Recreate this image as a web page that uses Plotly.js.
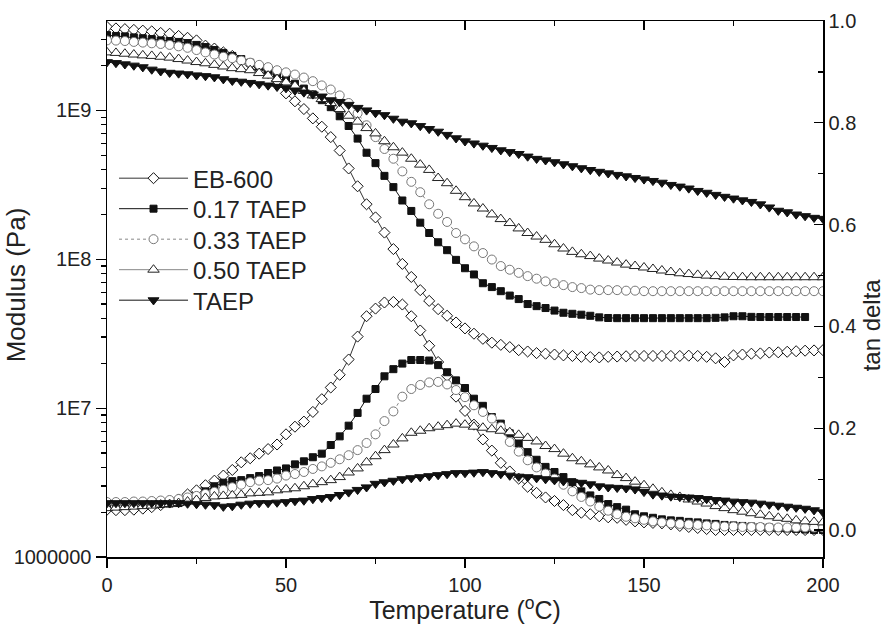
<!DOCTYPE html>
<html><head><meta charset="utf-8">
<script src="https://cdn.plot.ly/plotly-3.0.1.min.js"></script>
<style>html,body{margin:0;padding:0;background:#fff}</style>
</head><body><div id="chart" style="width:889px;height:628px"></div>
<script>
// ---- data ----
const temperature = [
  0,2.5,5,7.5,10,12.5,15,17.5,20,22.5,
  25,27.5,30,32.5,35,37.5,40,42.5,45,47.5,
  50,52.5,55,57.5,60,62.5,65,67.5,70,72.5,
  75,77.5,80,82.5,85,87.5,90,92.5,95,97.5,
  100,102.5,105,107.5,110,112.5,115,117.5,120,122.5,
  125,127.5,130,132.5,135,137.5,140,142.5,145,147.5,
  150,152.5,155,157.5,160,162.5,165,167.5,170,172.5,
  175,177.5,180,182.5,185,187.5,190,192.5,195,197.5,
  200];
const seriesNames = ['EB-600','0.17 TAEP','0.33 TAEP','0.50 TAEP','TAEP'];

// Modulus (Pa)
const modEB600 = [
  3.63e9,3.55e9,3.51e9,3.47e9,3.43e9,3.39e9,3.31e9,3.27e9,3.16e9,3.07e9,
  2.95e9,2.72e9,2.60e9,2.45e9,2.32e9,2.16e9,2.04e9,1.91e9,1.78e9,1.58e9,
  1.30e9,1.15e9,1.02e9,8.83e8,7.76e8,6.61e8,5.37e8,4.07e8,3.09e8,2.34e8,
  1.91e8,1.51e8,1.17e8,9.3e7,7.6e7,6.2e7,5.25e7,4.62e7,4.17e7,3.76e7,
  3.43e7,3.16e7,2.92e7,2.75e7,2.66e7,2.57e7,2.45e7,2.40e7,2.34e7,2.32e7,
  2.29e7,2.26e7,2.24e7,2.21e7,2.20e7,2.19e7,2.21e7,2.22e7,2.23e7,2.24e7,
  2.24e7,2.24e7,2.24e7,2.24e7,2.24e7,2.25e7,2.24e7,2.21e7,2.16e7,2.04e7,
  2.26e7,2.29e7,2.32e7,2.33e7,2.36e7,2.37e7,2.39e7,2.41e7,2.43e7,2.44e7,
  2.45e7];
const mod017 = [
  3.20e9,3.16e9,3.14e9,3.09e9,3.05e9,3.01e9,2.95e9,2.92e9,2.88e9,2.83e9,
  2.75e9,2.66e9,2.54e9,2.43e9,2.32e9,2.21e9,2.09e9,1.97e9,1.84e9,1.72e9,
  1.62e9,1.51e9,1.40e9,1.28e9,1.17e9,1.05e9,9.12e8,7.85e8,6.46e8,5.19e8,
  4.42e8,3.63e8,3.05e8,2.48e8,2.11e8,1.76e8,1.50e8,1.30e8,1.15e8,9.9e7,
  8.7e7,7.9e7,6.9e7,6.5e7,6.1e7,5.7e7,5.4e7,5.0e7,4.84e7,4.70e7,
  4.52e7,4.37e7,4.30e7,4.24e7,4.17e7,4.07e7,4.03e7,4.02e7,4.02e7,4.02e7,
  4.02e7,4.02e7,4.02e7,4.02e7,4.02e7,4.02e7,4.02e7,4.02e7,4.04e7,4.07e7,
  4.14e7,4.14e7,4.10e7,4.09e7,4.09e7,4.09e7,4.09e7,4.09e7,4.09e7,null,
  null];
const mod033 = [
  2.95e9,2.94e9,2.92e9,2.88e9,2.85e9,2.82e9,2.79e9,2.75e9,2.69e9,2.63e9,
  2.54e9,2.45e9,2.37e9,2.29e9,2.24e9,2.16e9,2.09e9,2.02e9,1.95e9,1.86e9,
  1.80e9,1.74e9,1.66e9,1.57e9,1.47e9,1.38e9,1.26e9,1.12e9,9.55e8,7.94e8,
  6.61e8,5.50e8,4.73e8,3.89e8,3.31e8,2.82e8,2.34e8,2.02e8,1.78e8,1.50e8,
  1.36e8,1.22e8,1.10e8,9.95e7,9.0e7,8.5e7,8.1e7,7.7e7,7.4e7,7.1e7,
  6.9e7,6.7e7,6.5e7,6.4e7,6.25e7,6.2e7,6.2e7,6.2e7,6.15e7,6.15e7,
  6.1e7,6.1e7,6.1e7,6.1e7,6.1e7,6.1e7,6.1e7,6.1e7,6.1e7,6.1e7,
  6.1e7,6.1e7,6.1e7,6.1e7,6.1e7,6.1e7,6.1e7,6.1e7,6.1e7,6.1e7,
  6.1e7];
const mod050 = [
  2.45e9,2.43e9,2.40e9,2.37e9,2.34e9,2.32e9,2.29e9,2.26e9,2.21e9,2.16e9,
  2.11e9,2.07e9,2.02e9,1.97e9,1.92e9,1.89e9,1.86e9,1.78e9,1.71e9,1.62e9,
  1.54e9,1.46e9,1.35e9,1.26e9,1.19e9,1.12e9,1.02e9,9.2e8,8.4e8,7.6e8,
  7.0e8,6.2e8,5.65e8,5.2e8,4.73e8,4.32e8,3.98e8,3.51e8,3.24e8,2.88e8,
  2.61e8,2.37e8,2.19e8,2.0e8,1.86e8,1.75e8,1.61e8,1.50e8,1.42e8,1.35e8,
  1.26e8,1.18e8,1.12e8,1.08e8,1.05e8,1.01e8,9.8e7,9.5e7,9.2e7,9.0e7,
  8.8e7,8.6e7,8.4e7,8.2e7,8.05e7,7.95e7,7.85e7,7.76e7,7.7e7,7.62e7,
  7.6e7,7.58e7,7.57e7,7.57e7,7.57e7,7.57e7,7.57e7,7.57e7,7.57e7,7.57e7,
  7.57e7];
const modTAEP = [
  2.11e9,2.08e9,2.04e9,2.0e9,1.95e9,1.88e9,1.83e9,1.79e9,1.77e9,1.75e9,
  1.72e9,1.70e9,1.67e9,1.62e9,1.58e9,1.56e9,1.53e9,1.50e9,1.47e9,1.44e9,
  1.41e9,1.36e9,1.32e9,1.28e9,1.24e9,1.17e9,1.14e9,1.09e9,1.04e9,1.0e9,
  9.6e8,9.3e8,8.8e8,8.4e8,8.2e8,7.85e8,7.5e8,7.2e8,6.85e8,6.5e8,
  6.2e8,6.0e8,5.8e8,5.6e8,5.4e8,5.25e8,5.1e8,4.9e8,4.73e8,4.62e8,
  4.49e8,4.35e8,4.22e8,4.09e8,3.98e8,3.87e8,3.78e8,3.69e8,3.61e8,3.52e8,
  3.44e8,3.36e8,3.27e8,3.16e8,3.08e8,2.99e8,2.88e8,2.80e8,2.71e8,2.63e8,
  2.56e8,2.49e8,2.43e8,2.34e8,2.23e8,2.12e8,2.07e8,2.0e8,1.95e8,1.90e8,
  1.87e8];

// tan delta
const tanEB600 = [
  0.040,0.039,0.039,0.040,0.042,0.045,0.049,0.054,0.060,0.070,
  0.078,0.088,0.097,0.107,0.118,0.133,0.141,0.150,0.159,0.168,
  0.188,0.203,0.213,0.232,0.257,0.280,0.305,0.335,0.380,0.420,
  0.435,0.447,0.448,0.443,0.420,0.392,0.362,0.330,0.303,0.262,
  0.234,0.207,0.178,0.156,0.132,0.115,0.101,0.085,0.073,0.064,
  0.057,0.049,0.039,0.034,0.031,0.027,0.025,0.024,0.020,0.017,
  0.015,0.014,0.013,0.011,0.008,0.006,0.004,0.002,0.000,0.000,
  0.000,0.000,0.000,0.000,0.000,0.000,0.000,0.000,0.000,0.000,
  0.000];
const tan017 = [
  0.049,0.049,0.050,0.050,0.050,0.051,0.051,0.052,0.053,0.058,
  0.066,0.076,0.086,0.093,0.096,0.098,0.102,0.106,0.112,0.117,
  0.121,0.129,0.135,0.143,0.150,0.167,0.184,0.205,0.230,0.258,
  0.277,0.302,0.316,0.327,0.334,0.334,0.333,0.324,0.310,0.294,
  0.279,0.258,0.244,0.222,0.209,0.190,0.170,0.153,0.138,0.124,
  0.114,0.104,0.094,0.076,0.068,0.061,0.051,0.045,0.040,0.031,
  0.027,0.024,0.021,0.019,0.018,0.016,0.015,0.013,0.012,0.010,
  0.009,0.008,0.007,0.006,0.005,0.004,0.003,0.002,0.001,0.000,
  0.000];
const tan033 = [
  0.055,0.055,0.055,0.056,0.056,0.057,0.058,0.059,0.061,0.064,
  0.067,0.071,0.075,0.079,0.084,0.089,0.094,0.097,0.098,0.101,
  0.107,0.110,0.114,0.120,0.125,0.132,0.139,0.147,0.157,0.171,
  0.188,0.214,0.233,0.262,0.277,0.285,0.290,0.291,0.286,0.275,
  0.261,0.245,0.232,0.219,0.203,0.173,0.154,0.137,0.123,0.111,
  0.101,0.089,0.076,0.065,0.056,0.046,0.038,0.031,0.026,0.023,
  0.020,0.017,0.015,0.013,0.012,0.011,0.010,0.009,0.008,0.007,
  0.007,0.006,0.006,0.006,0.005,0.005,0.005,0.005,0.005,0.005,
  0.005];
const tan050 = [
  0.043,0.044,0.045,0.046,0.047,0.048,0.050,0.051,0.053,0.056,
  0.059,0.063,0.066,0.067,0.068,0.069,0.072,0.073,0.074,0.078,
  0.080,0.082,0.086,0.090,0.094,0.098,0.104,0.113,0.121,0.133,
  0.145,0.157,0.168,0.180,0.191,0.195,0.200,0.203,0.206,0.209,
  0.207,0.203,0.201,0.198,0.195,0.192,0.187,0.181,0.174,0.165,
  0.159,0.150,0.141,0.135,0.129,0.123,0.117,0.108,0.102,0.095,
  0.088,0.081,0.074,0.069,0.065,0.060,0.056,0.052,0.047,0.043,
  0.039,0.036,0.033,0.030,0.027,0.024,0.022,0.019,0.017,0.016,
  0.015];
const tanTAEP = [
  0.053,0.053,0.053,0.053,0.053,0.053,0.053,0.053,0.053,0.052,
  0.051,0.050,0.049,0.046,0.047,0.050,0.052,0.053,0.053,0.054,
  0.055,0.057,0.058,0.061,0.063,0.065,0.069,0.074,0.079,0.084,
  0.091,0.094,0.097,0.100,0.102,0.104,0.106,0.108,0.110,0.112,
  0.112,0.113,0.114,0.112,0.110,0.107,0.105,0.104,0.102,0.100,
  0.098,0.096,0.094,0.093,0.090,0.086,0.084,0.083,0.082,0.080,
  0.075,0.070,0.068,0.066,0.065,0.064,0.063,0.061,0.059,0.058,
  0.056,0.055,0.054,0.052,0.050,0.048,0.046,0.044,0.042,0.039,
  0.035];

const modulusTickVals = [1e6, 1e7, 1e8, 1e9];
const modulusTickText = ['1000000', '1E7', '1E8', '1E9'];

// ---- styling ----
const FONT = 'Liberation Sans, Arial, Helvetica, sans-serif';
const modulusSeries = [modEB600, mod017, mod033, mod050, modTAEP];
const tanSeries = [tanEB600, tan017, tan033, tan050, tanTAEP];
const styles = [
  {symbol:'diamond', size:8.5, fill:'#ffffff', edge:'#111', line:{color:'#333', width:1}},
  {symbol:'square', size:7, fill:'#111', edge:'#111', line:{color:'#111', width:1}},
  {symbol:'circle', size:9, fill:'#ffffff', edge:'#777', line:{color:'#888', width:1, dash:'dot'}},
  {symbol:'triangle-up', size:10, fill:'#ffffff', edge:'#222', line:{color:'#888', width:1}},
  {symbol:'triangle-down', size:9.5, fill:'#111', edge:'#111', line:{color:'#111', width:1}}
];

const traces = [];
seriesNames.forEach((name, i) => {
  const s = styles[i];
  const marker = {symbol:s.symbol, size:s.size, color:s.fill, line:{color:s.edge, width:1}};
  traces.push({x:temperature, y:modulusSeries[i], name:name,
    type:'scatter', mode:'lines+markers', xaxis:'x', yaxis:'y',
    line:s.line, marker:marker, showlegend:true, connectgaps:false});
  traces.push({x:temperature, y:tanSeries[i], name:name + ' tan delta',
    type:'scatter', mode:'lines+markers', xaxis:'x2', yaxis:'y2',
    line:s.line, marker:marker, showlegend:false});
});

const minorLog = [];
for (let e = 6; e <= 9; e++) for (let d = 2; d <= 9; d++) { const v = d * Math.pow(10, e); if (v < 3.98e9) minorLog.push(v); }

const axisCommon = {showline:true, linecolor:'#000', linewidth:1.5, showgrid:false, zeroline:false,
  tickcolor:'#000', tickwidth:1.2, tickfont:{family:FONT, size:20, color:'#222'}};

const layout = {
  width:889, height:628,
  margin:{l:107, r:66, t:21, b:71, pad:0},
  paper_bgcolor:'#fff', plot_bgcolor:'#fff',
  font:{family:FONT, color:'#222'},
  showlegend:true,
  legend:{x:0.0098, y:0.748, xanchor:'left', yanchor:'top', bgcolor:'rgba(0,0,0,0)',
    font:{family:FONT, size:24, color:'#222'}, itemwidth:69, tracegroupgap:0},
  xaxis:Object.assign({}, axisCommon, {
    range:[0,200], tickmode:'linear', tick0:0, dtick:50, ticks:'outside', ticklen:9,
    minor:{ticks:'outside', dtick:25, tick0:0, ticklen:5, tickcolor:'#000', tickwidth:1.2},
    title:{text:'Temperature (<sup>o</sup>C)', font:{family:FONT, size:25, color:'#222'}, standoff:4}
  }),
  xaxis2:Object.assign({}, axisCommon, {
    range:[0,200], overlaying:'x', side:'top', anchor:'y2', tickmode:'linear', tick0:0, dtick:50,
    ticks:'inside', ticklen:9, showticklabels:false,
    minor:{ticks:'inside', dtick:25, tick0:0, ticklen:5, tickcolor:'#000', tickwidth:1.2}
  }),
  yaxis:Object.assign({}, axisCommon, {
    type:'log', range:[6, 9.6], tickmode:'array', tickvals:modulusTickVals, ticktext:modulusTickText,
    ticks:'outside', ticklen:10,
    minor:{ticks:'outside', tickmode:'array', tickvals:minorLog, ticklen:5, tickcolor:'#000', tickwidth:1.2},
    title:{text:'Modulus (Pa)', font:{family:FONT, size:26, color:'#222'}, standoff:0}
  }),
  yaxis2:Object.assign({}, axisCommon, {
    overlaying:'y', side:'right', anchor:'x2', range:[-0.053, 1.0], tickmode:'linear', tick0:0, dtick:0.2,
    tickformat:'.1f', ticks:'inside', ticklen:9,
    minor:{ticks:'inside', dtick:0.1, tick0:0, ticklen:5, tickcolor:'#000', tickwidth:1.2},
    title:{text:'tan delta', font:{family:FONT, size:24, color:'#222'}, standoff:4}
  }),
  hovermode:false
};

Plotly.newPlot('chart', traces, layout, {displayModeBar:false, staticPlot:true}).then(gd => {
  const root = gd.getBoundingClientRect();
  // place axis titles where the reference has them
  function centerTitle(groupSel, cx, cy) {
    const g = gd.querySelector(groupSel);
    if (!g) return;
    const r = g.getBoundingClientRect();
    const dx = cx == null ? 0 : cx - (r.left - root.left + r.width / 2);
    const dy = cy == null ? 0 : cy - (r.top - root.top + r.height / 2);
    g.setAttribute('transform', 'translate(' + dx + ',' + dy + ')');
  }
  centerTitle('.g-xtitle', null, 614);
  centerTitle('.g-ytitle', 35, 285);
  centerTitle('.g-y2title', 873, 325);
  // tighten legend row spacing to the reference's ~30.5 px
  const items = gd.querySelectorAll('.legend .traces');
  let y0 = null;
  items.forEach((it, i) => {
    const m = /translate\(([-\d.]+)[ ,]+([-\d.]+)\)/.exec(it.getAttribute('transform') || '');
    if (!m) return;
    if (y0 === null) y0 = parseFloat(m[2]);
    it.setAttribute('transform', 'translate(' + m[1] + ',' + (y0 + i * 30.5) + ')');
  });
});
</script>
</body></html>
